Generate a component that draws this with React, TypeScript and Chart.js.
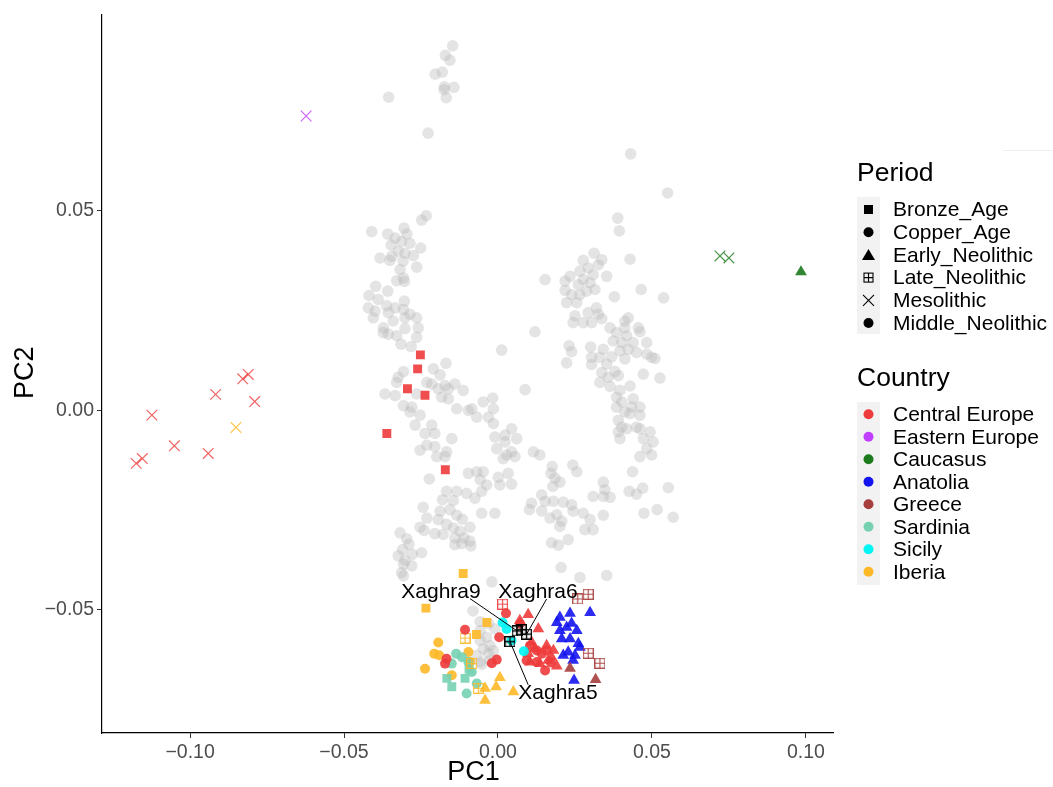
import React, { useEffect, useRef } from 'react';
import { Chart, registerables } from 'chart.js';
Chart.register(...registerables);

const FONT = '"Liberation Sans", Arial, Helvetica, sans-serif';

// ---- axes ----
const xTicks = [-0.1, -0.05, 0, 0.05, 0.1];
const yTicks = [-0.05, 0, 0.05];
const xRange = [-0.1286, 0.1088];
const yRange = [-0.0809, 0.0992];
const xTitle = 'PC1';
const yTitle = 'PC2';

// ---- legend ----
const periods = ['Bronze_Age', 'Copper_Age', 'Early_Neolithic', 'Late_Neolithic', 'Mesolithic', 'Middle_Neolithic'];
const periodShapes = ['rect', 'circle', 'triangle', 'boxplus', 'cross', 'circle'];
const countries = ['Central Europe', 'Eastern Europe', 'Caucasus', 'Anatolia', 'Greece', 'Sardinia', 'Sicily', 'Iberia'];
const countryColors = ['#EE3B3B', '#BF3EFF', '#1B7A1B', '#1414F0', '#A63E3E', '#76D1B1', '#00F5F5', '#FDB827'];

// ---- background reference samples (PC1, PC2) ----
const greyNorth = [[-0.0147,0.0914],[-0.0171,0.0890],[-0.0156,0.0878],[-0.0204,0.0843],[-0.0181,0.0848],[-0.0174,0.0811],[-0.0143,0.0810],[-0.0175,0.0804],[-0.0168,0.0784],[-0.0355,0.0785],[-0.0227,0.0695],[0.0431,0.0643],[0.0551,0.0545],[0.0389,0.0482],[0.0394,0.0450],[0.0429,0.0379],[0.0153,0.0328],[0.0465,0.0303],[0.0538,0.0282],[0.0378,0.0285]];
const greyWestArm = [[-0.0233,0.0488],[-0.0248,0.0477],[-0.0410,0.0448],[-0.0305,0.0457],[-0.0358,0.0442],[-0.0296,0.0442],[-0.0334,0.0432],[-0.0347,0.0415],[-0.0313,0.0423],[-0.0286,0.0419],[-0.0251,0.0407],[-0.0383,0.0382],[-0.0345,0.0386],[-0.0324,0.0399],[-0.0302,0.0394],[-0.0275,0.0388],[-0.0308,0.0374],[-0.0351,0.0376],[-0.0264,0.0359],[-0.0318,0.0353],[-0.0329,0.0325],[-0.0304,0.0323],[-0.0307,0.0332],[-0.0397,0.0311],[-0.0358,0.0299],[-0.0419,0.0288],[-0.0389,0.0278],[-0.0304,0.0274],[-0.0421,0.0257],[-0.0399,0.0249],[-0.0361,0.0262],[-0.0334,0.0257],[-0.0405,0.0232],[-0.0356,0.0245],[-0.0307,0.0253],[-0.0286,0.0241],[-0.0302,0.0232],[-0.0264,0.0232],[-0.0340,0.0224],[-0.0372,0.0207],[-0.0302,0.0205],[-0.0259,0.0207],[-0.0356,0.0191],[-0.0329,0.0187],[-0.0264,0.0183],[-0.0315,0.0166],[-0.0282,0.0160],[-0.0373,0.0195]];
const greyWestMid = [[-0.0169,0.0118],[-0.0210,0.0104],[-0.0188,0.0089],[-0.0307,0.0097],[-0.0324,0.0083],[-0.0231,0.0070],[-0.0215,0.0066],[-0.0194,0.0054],[-0.0172,0.0062],[-0.0140,0.0066],[-0.0113,0.0050],[-0.0367,0.0041],[-0.0334,0.0037],[-0.0264,0.0041],[-0.0183,0.0033],[-0.0329,0.0070],[-0.0161,0.0054],[0.0012,0.0151],[0.0120,0.0197],[0.0088,0.0052],[-0.0307,0.0012],[-0.0280,0.0008],[-0.0286,-0.0004],[-0.0253,-0.0012],[-0.0269,-0.0037],[-0.0237,-0.0058],[-0.0205,-0.0058],[-0.0215,-0.0037],[-0.0150,-0.0071],[-0.0231,-0.0087],[-0.0205,-0.0091],[-0.0253,-0.0100],[-0.0167,-0.0104],[-0.0199,-0.0116],[-0.0172,-0.0116],[-0.0161,0.0029],[-0.0134,0.0004],[-0.0096,0.0000],[-0.0069,-0.0017],[-0.0031,-0.0017],[-0.0015,0.0004],[-0.0017,0.0031],[-0.0048,0.0021],[-0.0085,0.0004]];
const greyCentral = [[-0.0015,-0.0033],[0.0044,-0.0046],[-0.0010,-0.0067],[0.0023,-0.0062],[0.0023,-0.0079],[0.0061,-0.0071],[-0.0004,-0.0096],[0.0028,-0.0112],[0.0055,-0.0116],[0.0044,-0.0104],[0.0017,-0.0121],[0.0115,-0.0104],[0.0136,-0.0112]];
const greyWestLower = [[-0.0223,-0.0172],[-0.0096,-0.0158],[-0.0069,-0.0154],[-0.0048,-0.0154],[-0.0058,-0.0174],[-0.0037,-0.0187],[0.0001,-0.0168],[0.0033,-0.0158],[0.0006,-0.0187],[0.0044,-0.0185],[-0.0075,-0.0220],[-0.0053,-0.0203],[-0.0167,-0.0203],[-0.0134,-0.0203],[-0.0102,-0.0208],[-0.0180,-0.0224],[-0.0145,-0.0226],[-0.0243,-0.0243],[-0.0188,-0.0253],[-0.0156,-0.0249],[-0.0134,-0.0263],[-0.0116,-0.0273],[-0.0053,-0.0258],[-0.0010,-0.0258],[-0.0231,-0.0270],[-0.0194,-0.0274],[-0.0167,-0.0286],[-0.0145,-0.0295],[-0.0123,-0.0303],[-0.0091,-0.0293],[-0.0253,-0.0293],[-0.0240,-0.0301],[-0.0205,-0.0309],[-0.0178,-0.0311],[-0.0140,-0.0320],[-0.0110,-0.0320],[-0.0091,-0.0328],[-0.0088,-0.0340],[-0.0118,-0.0334],[-0.0140,-0.0337],[-0.0318,-0.0307],[-0.0296,-0.0322],[-0.0289,-0.0336],[-0.0310,-0.0349],[-0.0278,-0.0361],[-0.0248,-0.0357],[-0.0324,-0.0365],[-0.0302,-0.0376],[-0.0280,-0.0390],[-0.0307,-0.0386],[-0.0313,-0.0407],[-0.0307,-0.0415]];
const greyEastLower = [[0.0176,-0.0141],[0.0172,-0.0158],[0.0185,-0.0170],[0.0201,-0.0180],[0.0178,-0.0191],[0.0243,-0.0137],[0.0256,-0.0154],[0.0342,-0.0180],[0.0347,-0.0199],[0.0342,-0.0216],[0.0364,-0.0218],[0.0309,-0.0216],[0.0142,-0.0212],[0.0153,-0.0228],[0.0109,-0.0233],[0.0102,-0.0249],[0.0142,-0.0252],[0.0180,-0.0228],[0.0212,-0.0230],[0.0239,-0.0237],[0.0244,-0.0253],[0.0277,-0.0258],[0.0169,-0.0270],[0.0191,-0.0262],[0.0207,-0.0278],[0.0201,-0.0291],[0.0299,-0.0274],[0.0342,-0.0263],[0.0282,-0.0299],[0.0309,-0.0299],[0.0228,-0.0324],[0.0174,-0.0332],[0.0196,-0.0338],[0.0437,-0.0154],[0.0426,-0.0203],[0.0450,-0.0210],[0.0470,-0.0195],[0.0474,-0.0258],[0.0517,-0.0249],[0.0553,-0.0194],[0.0569,-0.0268],[0.0391,-0.0054],[0.0418,-0.0046],[0.0461,-0.0046],[0.0494,-0.0054],[0.0472,-0.0071],[0.0504,-0.0079],[0.0483,-0.0096],[0.0499,-0.0112],[0.0461,-0.0116],[0.0396,-0.0071],[0.0205,-0.0394],[0.0266,-0.0419],[0.0353,-0.0414],[-0.0020,-0.0430]];
const greyEastArm = [[0.0312,0.0394],[0.0277,0.0376],[0.0234,0.0336],[0.0218,0.0324],[0.0266,0.0349],[0.0293,0.0357],[0.0326,0.0365],[0.0337,0.0378],[0.0353,0.0336],[0.0309,0.0340],[0.0277,0.0328],[0.0261,0.0315],[0.0299,0.0320],[0.0288,0.0299],[0.0315,0.0303],[0.0218,0.0301],[0.0239,0.0290],[0.0266,0.0290],[0.0223,0.0270],[0.0256,0.0270],[0.0320,0.0257],[0.0293,0.0245],[0.0326,0.0241],[0.0250,0.0237],[0.0277,0.0220],[0.0244,0.0220],[0.0304,0.0220],[0.0337,0.0230],[0.0364,0.0207],[0.0412,0.0224],[0.0423,0.0232],[0.0412,0.0207],[0.0385,0.0195],[0.0456,0.0207],[0.0461,0.0197],[0.0418,0.0187],[0.0374,0.0174],[0.0402,0.0170],[0.0439,0.0170],[0.0483,0.0170],[0.0231,0.0162],[0.0239,0.0147],[0.0301,0.0159],[0.0342,0.0153],[0.0396,0.0149],[0.0423,0.0153],[0.0450,0.0145],[0.0304,0.0133],[0.0331,0.0133],[0.0369,0.0134],[0.0412,0.0129],[0.0483,0.0141],[0.0499,0.0133],[0.0510,0.0130],[0.0223,0.0119],[0.0304,0.0115],[0.0353,0.0116],[0.0337,0.0095],[0.0380,0.0097],[0.0391,0.0087],[0.0358,0.0083],[0.0472,0.0091],[0.0526,0.0081],[0.0331,0.0070],[0.0364,0.0060],[0.0429,0.0061],[0.0396,0.0050],[0.0385,0.0033],[0.0439,0.0029],[0.0402,0.0021],[0.0461,0.0008],[0.0434,0.0008],[0.0385,0.0008],[0.0412,-0.0004],[0.0429,-0.0008],[0.0461,-0.0012],[0.0391,-0.0025],[0.0402,-0.0042],[0.0450,-0.0042]];
const greySouth = [[-0.0081,-0.0503],[-0.0058,-0.0530],[-0.0031,-0.0535],[-0.0010,-0.0548],[-0.0058,-0.0552],[-0.0037,-0.0569],[-0.0058,-0.0577],[-0.0026,-0.0590],[-0.0048,-0.0598],[-0.0031,-0.0610],[-0.0015,-0.0602],[-0.0069,-0.0614],[-0.0026,-0.0627],[-0.0058,-0.0631],[-0.0053,-0.0637]];

// ---- ancient samples by country / period ----
const centralMesolithic = [[-0.0811,0.0090],[-0.0829,0.0079],[-0.0917,0.0040],[-0.0790,0.0022],[-0.1124,-0.0012],[-0.1051,-0.0089],[-0.0941,-0.0108],[-0.1155,-0.0121],[-0.1175,-0.0133]];
const iberiaMesolithic = [[-0.0851,-0.0043]];
const easternMesolithic = [[-0.0623,0.0738]];
const caucasusMesolithic = [[0.0721,0.0387],[0.0750,0.0382]];
const caucasusEarlyNeo = [[0.0984,0.0347]];
const centralBronze = [[-0.0252,0.0139],[-0.0261,0.0104],[-0.0294,0.0054],[-0.0237,0.0038],[-0.0361,-0.0058],[-0.0171,-0.0149]];
const iberiaBronze = [[-0.0113,-0.0409],[-0.0234,-0.0496],[-0.0036,-0.0532],[-0.0070,-0.0562]];
const iberiaLateNeo = [[-0.0107,-0.0571],[-0.0085,-0.0635],[-0.0064,-0.0697]];
const iberiaCopper = [[-0.0194,-0.0582],[-0.0207,-0.0610],[-0.0191,-0.0614],[-0.0237,-0.0648],[-0.0150,-0.0664],[-0.0096,-0.0606],[-0.0091,-0.0631]];
const iberiaEarlyNeo = [[0.0006,-0.0670],[-0.0006,-0.0693],[-0.0042,-0.0697],[-0.0042,-0.0727],[0.0050,-0.0706]];
const sardiniaBronze = [[-0.0166,-0.0672],[-0.0150,-0.0693],[-0.0107,-0.0672],[-0.0094,-0.0649]];
const sardiniaMiddleNeo = [[-0.0136,-0.0610],[-0.0117,-0.0619],[-0.0096,-0.0631],[-0.0085,-0.0656],[-0.0069,-0.0685],[-0.0102,-0.0710],[-0.0150,-0.0635]];
const centralLateNeo = [[0.0015,-0.0486]];
const centralMiddleNeo = [[0.0026,-0.0509],[-0.0107,-0.0550],[0.0004,-0.0569],[-0.0167,-0.0623],[-0.0172,-0.0635],[-0.0004,-0.0625],[-0.0020,-0.0634],[0.0071,-0.0535],[0.0126,-0.0602],[0.0142,-0.0610],[0.0153,-0.0652],[0.0093,-0.0627],[0.0126,-0.0631],[0.0158,-0.0602],[0.0104,-0.0590],[0.0172,-0.0632]];
const centralEarlyNeo = [[0.0098,-0.0512],[0.0131,-0.0548],[0.0180,-0.0602],[0.0174,-0.0619],[0.0191,-0.0641],[0.0104,-0.0631],[0.0120,-0.0598],[0.0158,-0.0590],[0.0098,-0.0610],[0.0163,-0.0627],[0.0136,-0.0635],[0.0071,-0.0527],[0.0109,-0.0581]];
const anatoliaEarlyNeo = [[0.0191,-0.0532],[0.0234,-0.0509],[0.0299,-0.0507],[0.0201,-0.0552],[0.0239,-0.0534],[0.0256,-0.0552],[0.0207,-0.0573],[0.0234,-0.0573],[0.0261,-0.0585],[0.0228,-0.0606],[0.0250,-0.0614],[0.0212,-0.0614],[0.0247,-0.0677],[0.0223,-0.0544],[0.0201,-0.0519],[0.0266,-0.0594],[0.0244,-0.0627]];
const greeceEarlyNeo = [[0.0234,-0.0647],[0.0317,-0.0675]];
const greeceLateNeo = [[0.0259,-0.0473],[0.0293,-0.0461],[0.0293,-0.0609],[0.0331,-0.0634]];
const sicilyMiddleNeo = [[0.0015,-0.0532],[0.0028,-0.0548],[0.0084,-0.0604],[0.0044,-0.0577]];

// ---- Xaghra (Malta) samples and their labels ----
const xaghraNames = ['Xaghra9', 'Xaghra6', 'Xaghra5'];
const xaghraPC1 = [0.0062, 0.0093, 0.0039];
const xaghraPC2 = [-0.0553, -0.0561, -0.0580];
const xaghraExtra = [[0.0075, -0.0550]];
const labelPC1 = [-0.0185, 0.0130, 0.0195];
const labelPC2 = [-0.0456, -0.0456, -0.0709];
const leaderPC1 = [-0.0091, 0.0158, 0.0098];
const leaderPC2 = [-0.0472, -0.0473, -0.0688];

const fmt = (v: number) => (v < 0 ? '\u2212' : '') + Math.abs(v).toFixed(2);
const col = (country: string) => countryColors[countries.indexOf(country)];

function boxPlus(color: string, size = 11, lw = 1.2) {
  const c = document.createElement('canvas');
  c.width = size; c.height = size;
  const ctx = c.getContext('2d')!;
  ctx.strokeStyle = color; ctx.lineWidth = lw;
  ctx.strokeRect(lw / 2, lw / 2, size - lw, size - lw);
  ctx.beginPath();
  ctx.moveTo(size / 2, 0); ctx.lineTo(size / 2, size);
  ctx.moveTo(0, size / 2); ctx.lineTo(size, size / 2);
  ctx.stroke();
  return c;
}

function drawSymbol(ctx: CanvasRenderingContext2D, shape: string, x: number, y: number, color: string) {
  ctx.save();
  ctx.fillStyle = color; ctx.strokeStyle = color;
  if (shape === 'rect') {
    ctx.fillRect(x - 4.5, y - 4.5, 9, 9);
  } else if (shape === 'circle') {
    ctx.beginPath(); ctx.arc(x, y, 5, 0, Math.PI * 2); ctx.fill();
  } else if (shape === 'triangle') {
    ctx.beginPath(); ctx.moveTo(x, y - 6); ctx.lineTo(x + 6.5, y + 5); ctx.lineTo(x - 6.5, y + 5); ctx.closePath(); ctx.fill();
  } else if (shape === 'boxplus') {
    ctx.lineWidth = 1.1;
    ctx.strokeRect(x - 4.5, y - 4.5, 9, 9);
    ctx.beginPath(); ctx.moveTo(x, y - 4.5); ctx.lineTo(x, y + 4.5); ctx.moveTo(x - 4.5, y); ctx.lineTo(x + 4.5, y); ctx.stroke();
  } else if (shape === 'cross') {
    ctx.lineWidth = 1.1;
    ctx.beginPath(); ctx.moveTo(x - 5.5, y - 5.5); ctx.lineTo(x + 5.5, y + 5.5); ctx.moveTo(x + 5.5, y - 5.5); ctx.lineTo(x - 5.5, y + 5.5); ctx.stroke();
  }
  ctx.restore();
}

const decorPlugin = {
  id: 'decor',
  afterDatasetsDraw(chart: any) {
    const ctx: CanvasRenderingContext2D = chart.ctx;
    const sx = chart.scales.x, sy = chart.scales.y;
    ctx.save();
    // Xaghra leader lines and labels
    ctx.strokeStyle = '#000'; ctx.lineWidth = 1;
    xaghraNames.forEach((_, i) => {
      ctx.beginPath();
      ctx.moveTo(sx.getPixelForValue(leaderPC1[i]), sy.getPixelForValue(leaderPC2[i]));
      ctx.lineTo(sx.getPixelForValue(xaghraPC1[i]), sy.getPixelForValue(xaghraPC2[i]));
      ctx.stroke();
    });
    ctx.fillStyle = '#000';
    ctx.font = `21px ${FONT}`;
    ctx.textAlign = 'center'; ctx.textBaseline = 'middle';
    xaghraNames.forEach((n, i) => {
      ctx.fillText(n, sx.getPixelForValue(labelPC1[i]), sy.getPixelForValue(labelPC2[i]));
    });
    ctx.restore();
  },
  afterDraw(chart: any) {
    const ctx: CanvasRenderingContext2D = chart.ctx;
    const area = chart.chartArea;
    ctx.save();
    // axis titles
    ctx.fillStyle = '#000';
    ctx.font = `27px ${FONT}`;
    ctx.textAlign = 'center'; ctx.textBaseline = 'middle';
    ctx.fillText(xTitle, (area.left + area.right) / 2 + 6, 773);
    ctx.save();
    ctx.translate(26, (area.top + area.bottom) / 2 - 1);
    ctx.rotate(-Math.PI / 2);
    ctx.fillText(yTitle, 0, 0);
    ctx.restore();

    // faint legend-box remnant at top right
    ctx.strokeStyle = '#F0F0F0'; ctx.lineWidth = 1;
    ctx.beginPath(); ctx.moveTo(1003, 150.5); ctx.lineTo(1053, 150.5); ctx.stroke();

    // legend: Period
    const lx = 857;
    ctx.textAlign = 'left'; ctx.textBaseline = 'alphabetic';
    ctx.font = `26.5px ${FONT}`;
    ctx.fillStyle = '#000';
    ctx.fillText('Period', lx, 181);
    ctx.fillStyle = '#F2F2F2';
    ctx.fillRect(lx, 197, 23, 137);
    ctx.font = `21px ${FONT}`;
    ctx.textBaseline = 'middle';
    periods.forEach((p, i) => {
      const y = 209.5 + i * 22.7;
      drawSymbol(ctx, periodShapes[i], lx + 11.5, y, '#000');
      ctx.fillStyle = '#000';
      ctx.fillText(p, 893, y + 1);
    });
    // legend: Country
    ctx.textBaseline = 'alphabetic';
    ctx.font = `26.5px ${FONT}`;
    ctx.fillStyle = '#000';
    ctx.fillText('Country', lx, 386);
    ctx.fillStyle = '#F2F2F2';
    ctx.fillRect(lx, 402, 23, 183);
    ctx.font = `21px ${FONT}`;
    ctx.textBaseline = 'middle';
    countries.forEach((c, i) => {
      const y = 414.3 + i * 22.5;
      drawSymbol(ctx, 'circle', lx + 11.5, y, countryColors[i]);
      ctx.fillStyle = '#000';
      ctx.fillText(c, 893, y + 1);
    });
    ctx.restore();
  },
};

export default function App() {
  const ref = useRef<HTMLCanvasElement>(null);
  useEffect(() => {
    if (!ref.current) return;
    const toPts = (arr: number[][]) => arr.map(([x, y]) => ({ x, y }));
    const alpha = (hex: string, a: string) => hex + a;
    const greyAll = [...greyNorth, ...greyWestArm, ...greyWestMid, ...greyCentral, ...greyWestLower, ...greyEastLower, ...greyEastArm, ...greySouth];

    const ds: any[] = [];
    ds.push({ data: toPts(greyAll), pointStyle: 'circle', pointRadius: 5.8, backgroundColor: 'rgba(185,185,185,0.38)', borderWidth: 0 });

    const groups: [string, string, number[][]][] = [
      ['Central Europe', 'Mesolithic', centralMesolithic],
      ['Iberia', 'Mesolithic', iberiaMesolithic],
      ['Eastern Europe', 'Mesolithic', easternMesolithic],
      ['Caucasus', 'Mesolithic', caucasusMesolithic],
      ['Caucasus', 'Early_Neolithic', caucasusEarlyNeo],
      ['Central Europe', 'Bronze_Age', centralBronze],
      ['Iberia', 'Bronze_Age', iberiaBronze],
      ['Iberia', 'Copper_Age', iberiaCopper],
      ['Sardinia', 'Middle_Neolithic', sardiniaMiddleNeo],
      ['Sardinia', 'Bronze_Age', sardiniaBronze],
      ['Iberia', 'Late_Neolithic', iberiaLateNeo],
      ['Iberia', 'Early_Neolithic', iberiaEarlyNeo],
      ['Central Europe', 'Middle_Neolithic', centralMiddleNeo],
      ['Central Europe', 'Early_Neolithic', centralEarlyNeo],
      ['Central Europe', 'Late_Neolithic', centralLateNeo],
      ['Anatolia', 'Early_Neolithic', anatoliaEarlyNeo],
      ['Greece', 'Early_Neolithic', greeceEarlyNeo],
      ['Greece', 'Late_Neolithic', greeceLateNeo],
      ['Sicily', 'Middle_Neolithic', sicilyMiddleNeo],
    ];
    groups.forEach(([country, period, pts]) => {
      const c = col(country);
      const shape = periodShapes[periods.indexOf(period)];
      const base: any = { label: `${country} ${period}`, data: toPts(pts) };
      if (shape === 'cross') {
        Object.assign(base, { pointStyle: 'crossRot', pointRadius: 7.5, borderColor: alpha(c, 'CC'), borderWidth: 1.2, backgroundColor: 'transparent' });
      } else if (shape === 'boxplus') {
        Object.assign(base, { pointStyle: boxPlus(alpha(c, 'E6'), 11, 1.2), borderWidth: 0 });
      } else if (shape === 'rect') {
        Object.assign(base, { pointStyle: 'rect', pointRadius: 6.3, backgroundColor: alpha(c, 'E6'), borderWidth: 0 });
      } else if (shape === 'triangle') {
        Object.assign(base, { pointStyle: 'triangle', pointRadius: 6.8, backgroundColor: alpha(c, 'E6'), borderWidth: 0 });
      } else {
        Object.assign(base, { pointStyle: 'circle', pointRadius: 5.0, backgroundColor: alpha(c, 'E6'), borderWidth: 0 });
      }
      ds.push(base);
    });
    const xaghraPts = [...xaghraNames.map((_, i) => [xaghraPC1[i], xaghraPC2[i]]), ...xaghraExtra];
    ds.push({ label: 'Xaghra', data: toPts(xaghraPts), pointStyle: boxPlus('#000', 11, 1.3), borderWidth: 0 });

    const n = ds.length;
    ds.forEach((d, i) => { d.order = n - i; d.showLine = false; });

    const tickFont = { size: 19.5, family: FONT };
    const chart = new Chart(ref.current, {
      type: 'scatter',
      data: { datasets: ds },
      options: {
        animation: false,
        responsive: true,
        maintainAspectRatio: false,
        devicePixelRatio: 1,
        events: [],
        layout: { padding: { left: 0, right: 220, top: 10, bottom: 0 } },
        plugins: { legend: { display: false }, tooltip: { enabled: false } },
        scales: {
          x: {
            type: 'linear', min: xRange[0], max: xRange[1],
            afterBuildTicks: (s: any) => { s.ticks = xTicks.map((v) => ({ value: v })); },
            afterFit: (s: any) => { s.height = 54; },
            ticks: { autoSkip: false, maxRotation: 0, padding: 3, color: '#4D4D4D', font: tickFont, callback: (v: any) => fmt(Number(v)) },
            grid: { display: true, drawOnChartArea: false, drawTicks: true, tickLength: 5, color: '#333333', lineWidth: 1 },
            border: { display: true, color: '#000', width: 1.2 },
          },
          y: {
            type: 'linear', min: yRange[0], max: yRange[1],
            afterBuildTicks: (s: any) => { s.ticks = yTicks.map((v) => ({ value: v })); },
            afterFit: (s: any) => { s.width = 102; },
            ticks: { autoSkip: false, padding: 3, color: '#4D4D4D', font: tickFont, callback: (v: any) => fmt(Number(v)) },
            grid: { display: true, drawOnChartArea: false, drawTicks: true, tickLength: 5, color: '#333333', lineWidth: 1 },
            border: { display: true, color: '#000', width: 1.2 },
          },
        },
      } as any,
      plugins: [decorPlugin],
    });
    return () => chart.destroy();
  }, []);

  return (
    <div style={{ position: 'fixed', left: 0, top: 0, width: 1053, height: 787, background: '#fff' }}>
      <canvas ref={ref} />
    </div>
  );
}
